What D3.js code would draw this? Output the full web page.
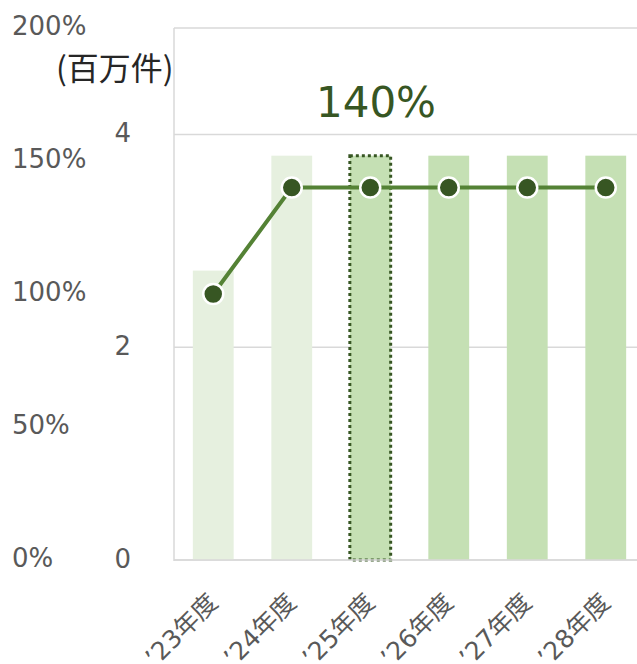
<!DOCTYPE html>
<html>
<head>
<meta charset="utf-8">
<script src="https://cdn.jsdelivr.net/npm/d3@7"></script>
<style>
  body { margin: 0; background: #fff; }
  svg text { font-family: "DejaVu Sans", "Noto Sans CJK JP", sans-serif; }
</style>
</head>
<body>
<div id="chart"></div>
<script>
// data
var years = ["’23年度", "’24年度", "’25年度", "’26年度", "’27年度", "’28年度"];
var volumes = [2.72, 3.8, 3.8, 3.8, 3.8, 3.8];      // 百万件 (bars)
var ratios = [1.0, 1.4, 1.4, 1.4, 1.4, 1.4];        // % (line)
var barFill = ["#e6f0df", "#e6f0df", "#c5e0b4", "#c5e0b4", "#c5e0b4", "#c5e0b4"];
var volTicks = [0, 2, 4];
var pctTicks = [0, 0.5, 1.0, 1.5, 2.0];
var highlight = "’25年度";
var highlightLabel = "140%";

var width = 637,
  height = 664;

var svg = d3.select("#chart").append("svg")
  .attr("width", width)
  .attr("height", height);

var plotLeft = 174, plotRight = 645, plotTop = 28, plotBottom = 560;

var x = d3.scaleBand()
  .domain(years)
  .range([plotLeft, plotRight])
  .paddingInner(0.48)
  .paddingOuter(0.24);

var yVol = d3.scaleLinear().domain([0, 5]).range([plotBottom, plotTop]);
var yPct = d3.scaleLinear().domain([0, 2]).range([plotBottom, plotTop]);

// gridlines (plus top border)
svg.append("g")
  .selectAll("line")
  .data(volTicks.concat([5]))
  .enter().append("line")
  .attr("x1", plotLeft).attr("x2", width)
  .attr("y1", function(d) { return yVol(d); })
  .attr("y2", function(d) { return yVol(d); })
  .attr("stroke", "#d9d9d9")
  .attr("stroke-width", 1.5);

// bars
svg.append("g")
  .selectAll("rect")
  .data(years)
  .enter().append("rect")
  .attr("x", function(d) { return x(d); })
  .attr("width", x.bandwidth())
  .attr("y", function(d, i) { return yVol(volumes[i]); })
  .attr("height", function(d, i) { return plotBottom - yVol(volumes[i]); })
  .attr("fill", function(d, i) { return barFill[i]; });

// highlight box
var hi = years.indexOf(highlight);
svg.append("rect")
  .attr("x", x(highlight))
  .attr("width", x.bandwidth())
  .attr("y", yVol(volumes[hi]))
  .attr("height", plotBottom - yVol(volumes[hi]))
  .attr("fill", "none")
  .attr("stroke", "#375623")
  .attr("stroke-width", 3)
  .attr("stroke-dasharray", "3,3");

// axis lines
svg.append("line")
  .attr("x1", plotLeft).attr("x2", plotLeft)
  .attr("y1", plotTop).attr("y2", plotBottom + 1)
  .attr("stroke", "#d9d9d9").attr("stroke-width", 1.5);
svg.append("line")
  .attr("x1", plotLeft).attr("x2", width)
  .attr("y1", plotBottom).attr("y2", plotBottom)
  .attr("stroke", "#d9d9d9").attr("stroke-width", 1.5);

// line
var line = d3.line()
  .x(function(d, i) { return x(years[i]) + x.bandwidth() / 2; })
  .y(function(d) { return yPct(d); });

svg.append("path")
  .datum(ratios)
  .attr("d", line)
  .attr("fill", "none")
  .attr("stroke", "#548235")
  .attr("stroke-width", 4);

svg.append("g")
  .selectAll("circle")
  .data(ratios)
  .enter().append("circle")
  .attr("cx", function(d, i) { return x(years[i]) + x.bandwidth() / 2; })
  .attr("cy", function(d) { return yPct(d); })
  .attr("r", 10)
  .attr("fill", "#375623")
  .attr("stroke", "#fff")
  .attr("stroke-width", 2.5);

// percent axis labels
svg.append("g")
  .selectAll("text")
  .data(pctTicks)
  .enter().append("text")
  .attr("x", 12)
  .attr("y", function(d) { return yPct(d) + 7; })
  .attr("font-size", 26)
  .attr("fill", "#595959")
  .text(function(d) { return d3.format(".0%")(d); });

// volume axis labels
svg.append("g")
  .selectAll("text")
  .data(volTicks)
  .enter().append("text")
  .attr("x", 131)
  .attr("y", function(d) { return yVol(d) + 8; })
  .attr("text-anchor", "end")
  .attr("font-size", 26)
  .attr("fill", "#595959")
  .text(function(d) { return d; });

svg.append("text")
  .attr("x", 56)
  .attr("y", 80)
  .attr("font-size", 32)
  .style("font-family", "'Noto Sans CJK JP', sans-serif")
  .attr("fill", "#262626")
  .text("(百万件)");

// highlight value
svg.append("text")
  .attr("x", 376)
  .attr("y", 117)
  .attr("text-anchor", "middle")
  .attr("font-size", 42)
  .attr("fill", "#375623")
  .text(highlightLabel);

// category labels
svg.append("g")
  .selectAll("text")
  .data(years)
  .enter().append("text")
  .attr("transform", function(d) {
    return "translate(" + (x(d) + x.bandwidth() / 2 + 6) + "," + 604 + ") rotate(-45)";
  })
  .attr("text-anchor", "end")
  .attr("font-size", 25)
  .attr("fill", "#595959")
  .text(function(d) { return d; });
</script>
</body>
</html>
